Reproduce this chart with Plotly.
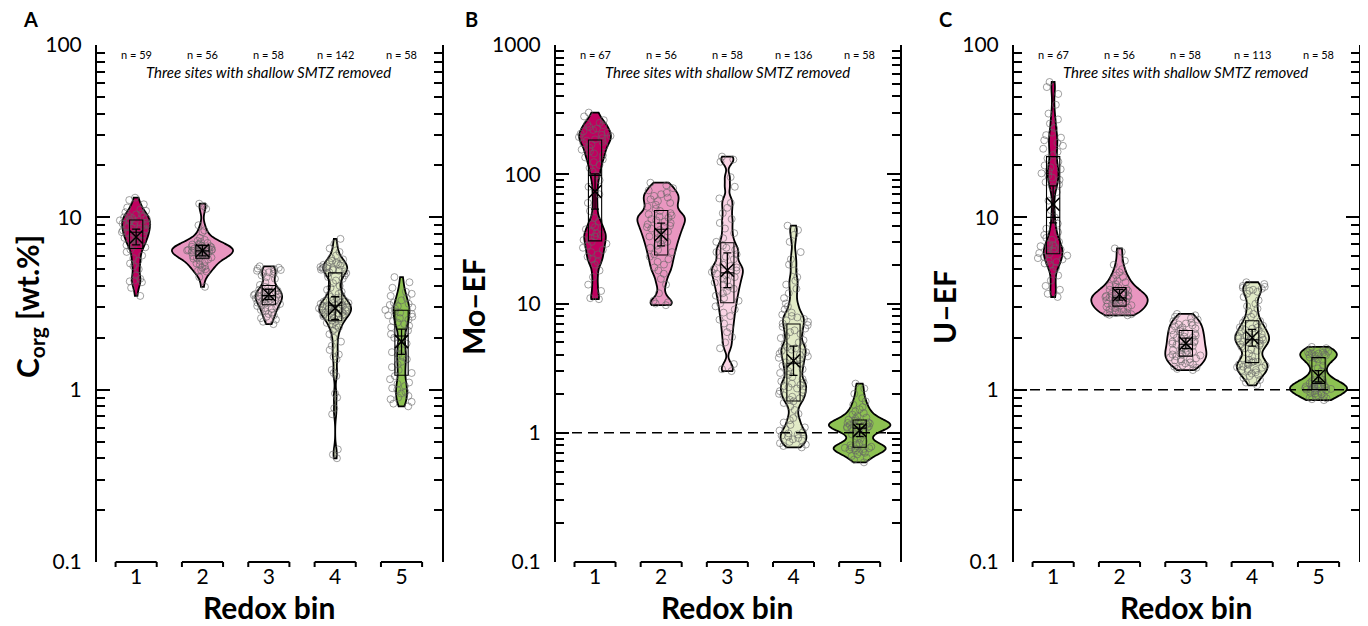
import numpy as np
import plotly.graph_objects as go

# ---------------- data ----------------
redox_bins = [1, 2, 3, 4, 5]
bin_tick_labels = ["1", "2", "3", "4", "5"]

corg_bin1 = [13.0, 12.6, 11.9, 11.4, 11.1, 10.9, 10.7, 10.5, 10.4, 10.2, 10.1, 10.0, 9.9, 9.8, 9.7,
             9.6, 9.5, 9.4, 9.3, 9.2, 9.1, 9.0, 8.9, 8.8, 8.7, 8.6, 8.5, 8.4, 8.3, 8.2, 8.1, 8.0,
             7.9, 7.8, 7.7, 7.6, 7.5, 7.4, 7.3, 7.2, 7.0, 6.9, 6.8, 6.7, 6.5, 6.3, 6.0, 5.8, 5.6,
             5.4, 5.2, 5.0, 4.6, 4.4, 4.3, 4.25, 4.2, 3.9, 3.5]
corg_bin2 = [12.0, 11.6, 11.2, 9.0, 8.4, 8.2, 7.6, 7.4, 7.3, 7.2, 7.1, 7.0, 6.95, 6.9, 6.85, 6.8,
             6.75, 6.7, 6.65, 6.6, 6.58, 6.55, 6.52, 6.5, 6.48, 6.45, 6.42, 6.4, 6.38, 6.35, 6.32,
             6.3, 6.25, 6.2, 6.15, 6.1, 6.05, 6.0, 5.95, 5.9, 5.85, 5.8, 5.75, 5.7, 5.6, 5.5, 5.4,
             5.3, 5.2, 5.1, 5.0, 4.95, 4.9, 4.85, 4.5, 3.95]
corg_bin3 = [5.2, 5.1, 5.05, 5.0, 4.95, 4.9, 4.85, 4.8, 4.75, 4.7, 4.6, 4.5, 4.4, 4.2, 4.05, 3.95,
             3.9, 3.85, 3.8, 3.75, 3.72, 3.7, 3.68, 3.65, 3.62, 3.6, 3.58, 3.55, 3.53, 3.5, 3.48,
             3.45, 3.42, 3.4, 3.38, 3.35, 3.32, 3.3, 3.27, 3.24, 3.2, 3.17, 3.14, 3.1, 3.06, 3.02,
             2.98, 2.94, 2.9, 2.85, 2.8, 2.75, 2.7, 2.65, 2.6, 2.55, 2.48, 2.4]
corg_bin4 = [7.5, 7.0, 6.6, 6.3, 6.0, 5.8, 5.7, 5.6, 5.5, 5.45, 5.4, 5.35, 5.3, 5.25, 5.2, 5.15,
             5.1, 5.08, 5.05, 5.0, 4.97, 4.94, 4.9, 4.85, 4.8, 4.75, 4.7, 4.6, 4.5, 4.4, 4.3, 4.15,
             4.0, 3.9, 3.8, 3.7, 3.6, 3.55, 3.5, 3.45, 3.4, 3.35, 3.3, 3.27, 3.24, 3.21, 3.18, 3.15,
             3.12, 3.1, 3.08, 3.06, 3.04, 3.02, 3.0, 2.98, 2.96, 2.94, 2.92, 2.9, 2.88, 2.86, 2.84,
             2.82, 2.8, 2.78, 2.76, 2.74, 2.72, 2.7, 2.67, 2.64, 2.6, 2.56, 2.52, 2.48, 2.44, 2.4,
             2.35, 2.3, 2.25, 2.2, 2.1, 2.0, 1.9, 1.8, 1.7, 1.6, 1.55, 1.5, 1.3, 1.25, 1.2, 0.95,
             0.9, 0.78, 0.72, 0.45, 0.42, 0.4]
corg_bin5 = [4.5, 4.2, 3.9, 3.7, 3.6, 3.5, 3.4, 3.3, 3.2, 3.15, 3.1, 3.05, 3.0, 2.95, 2.9, 2.85,
             2.8, 2.75, 2.7, 2.65, 2.6, 2.55, 2.5, 2.45, 2.4, 2.35, 2.3, 2.2, 2.1, 2.0, 1.95, 1.85,
             1.75, 1.7, 1.65, 1.6, 1.55, 1.5, 1.45, 1.4, 1.35, 1.3, 1.25, 1.2, 1.15, 1.1, 1.08,
             1.05, 1.02, 1.0, 0.97, 0.95, 0.92, 0.9, 0.88, 0.85, 0.83, 0.8]

mo_bin1 = [300, 280, 262, 250, 240, 232, 226, 220, 215, 210, 206, 202, 198, 194, 190, 186, 182,
           178, 174, 170, 165, 160, 155, 150, 145, 140, 135, 130, 124, 118, 112, 105, 98, 90, 80,
           70, 60, 52, 46, 43, 41, 39, 37.5, 36, 35, 34, 33, 32, 31, 30, 29, 28, 27, 26, 25, 24,
           23, 22, 21, 20, 18, 16, 14, 12.5, 11, 10.8, 245]
mo_bin2 = [86, 82, 78, 75, 72, 70, 68, 66, 64, 62, 60, 58, 56, 54, 52, 50, 49, 48, 47, 46, 45, 44,
           43, 42, 41, 40, 39, 38, 37, 36, 35, 34, 33, 32, 31, 30, 29, 28, 27, 26, 25, 24, 23, 22,
           21, 20, 19, 18, 17, 15.5, 14, 12, 10.5, 10.2, 10.0, 9.7]
mo_bin3 = [137, 130, 125, 95, 80, 65, 60, 55, 50, 45, 42, 38, 35, 32, 30, 28, 27, 26, 25, 24, 23,
           22, 21, 20, 19.5, 19, 18.5, 18, 17.5, 17, 16.5, 16, 15.5, 15, 14.5, 14, 13.5, 13, 12.5,
           12, 11.5, 11, 10.5, 10, 9.5, 9, 8.5, 8, 7.5, 7, 6.5, 6, 5.5, 5, 4.5, 3.4, 3.1, 3.0]
mo_bin4 = [40, 37, 34, 30, 25, 22, 20, 18, 16, 15, 14, 13, 12, 11, 10, 9.5, 9.0, 8.5, 8.2, 8.0,
           7.8, 7.6, 7.4, 7.2, 7.0, 6.8, 6.6, 6.4, 6.2, 6.0, 5.8, 5.6, 5.4, 5.2, 5.0, 4.8, 4.7,
           4.6, 4.5, 4.4, 4.3, 4.2, 4.1, 4.0, 3.9, 3.8, 3.7, 3.6, 3.5, 3.4, 3.3, 3.2, 3.1, 3.0,
           2.9, 2.8, 2.7, 2.6, 2.5, 2.45, 2.4, 2.35, 2.3, 2.25, 2.2, 2.15, 2.1, 2.05, 2.0, 1.95,
           1.9, 1.85, 1.8, 1.75, 1.7, 1.6, 1.5, 1.4, 1.3, 1.25, 1.2, 1.15, 1.1, 1.07, 1.04, 1.01,
           0.99, 0.97, 0.95, 0.93, 0.91, 0.89, 0.87, 0.85, 0.83, 0.81, 0.79, 0.77]
mo_bin5 = [2.4, 2.2, 2.0, 1.85, 1.75, 1.65, 1.58, 1.52, 1.46, 1.42, 1.38, 1.34, 1.31, 1.28, 1.26,
           1.24, 1.22, 1.2, 1.19, 1.18, 1.17, 1.16, 1.15, 1.14, 1.13, 1.12, 1.11, 1.1, 1.09, 1.08,
           1.06, 1.04, 1.02, 1.0, 0.97, 0.93, 0.9, 0.86, 0.83, 0.81, 0.8, 0.79, 0.78, 0.77, 0.765,
           0.76, 0.755, 0.75, 0.74, 0.73, 0.72, 0.71, 0.7, 0.68, 0.66, 0.64, 0.62, 0.59]

u_bin1 = [61, 57, 52, 45, 40, 37, 35, 33, 31, 30, 29, 28, 27, 26, 25, 24, 23, 22, 21, 20, 19.5,
          19, 18.5, 18, 17.5, 17, 16.5, 16, 15.5, 15, 14, 12.5, 11, 10, 9.2, 8.6, 8.2, 7.9, 7.6,
          7.4, 7.2, 7.0, 6.9, 6.8, 6.7, 6.6, 6.5, 6.4, 6.3, 6.2, 6.1, 6.0, 5.9, 5.8, 5.7, 5.6,
          5.5, 5.4, 5.3, 5.1, 4.9, 4.6, 4.3, 4.0, 3.8, 3.45, 3.6]
u_bin2 = [6.6, 6.3, 5.6, 5.3, 5.0, 4.8, 4.6, 4.5, 4.4, 4.3, 4.2, 4.1, 4.0, 3.95, 3.9, 3.85, 3.8,
          3.75, 3.7, 3.65, 3.6, 3.56, 3.52, 3.48, 3.45, 3.42, 3.39, 3.36, 3.33, 3.3, 3.27, 3.24,
          3.21, 3.18, 3.15, 3.12, 3.09, 3.06, 3.03, 3.0, 2.97, 2.94, 2.91, 2.88, 2.85, 2.82, 2.8,
          2.78, 2.76, 2.74, 2.72, 2.7, 3.5, 3.4, 3.6, 3.3]
u_bin3 = [2.75, 2.7, 2.65, 2.6, 2.55, 2.5, 2.45, 2.42, 2.39, 2.36, 2.33, 2.3, 2.27, 2.24, 2.21,
          2.18, 2.15, 2.12, 2.09, 2.06, 2.03, 2.0, 1.97, 1.94, 1.91, 1.88, 1.85, 1.82, 1.79, 1.76,
          1.73, 1.7, 1.68, 1.66, 1.64, 1.62, 1.6, 1.58, 1.56, 1.54, 1.52, 1.5, 1.48, 1.46, 1.44,
          1.42, 1.4, 1.38, 1.36, 1.34, 1.32, 1.3, 1.8, 1.9, 2.0, 1.7, 1.6, 1.5]
u_bin4 = [4.2, 4.1, 4.0, 3.95, 3.9, 3.85, 3.8, 3.75, 3.7, 3.6, 3.45, 3.3, 3.15, 3.05, 2.95, 2.85,
          2.75, 2.65, 2.55, 2.5, 2.45, 2.4, 2.35, 2.3, 2.26, 2.22, 2.18, 2.14, 2.1, 2.07, 2.04,
          2.01, 1.98, 1.95, 1.92, 1.89, 1.86, 1.83, 1.8, 1.77, 1.74, 1.71, 1.68, 1.62, 1.56, 1.52,
          1.49, 1.46, 1.44, 1.42, 1.4, 1.38, 1.36, 1.34, 1.32, 1.3, 1.28, 1.26, 1.24, 1.22, 1.2,
          1.17, 1.14, 1.1, 1.06, 2.0, 1.9, 2.2, 2.3, 1.85, 1.95, 2.05, 1.4, 1.35, 1.3, 1.45]
u_bin5 = [1.77, 1.74, 1.71, 1.68, 1.66, 1.64, 1.62, 1.6, 1.58, 1.56, 1.54, 1.52, 1.5, 1.47, 1.43,
          1.38, 1.33, 1.28, 1.24, 1.2, 1.17, 1.14, 1.12, 1.1, 1.09, 1.08, 1.07, 1.06, 1.05, 1.045,
          1.04, 1.035, 1.03, 1.025, 1.02, 1.015, 1.01, 1.0, 0.99, 0.98, 0.97, 0.96, 0.95, 0.94,
          0.93, 0.92, 0.91, 0.9, 0.89, 0.88, 0.87, 1.6, 1.62, 1.58, 1.05, 1.03, 1.0, 1.65]

corg_n = [59, 56, 58, 142, 58]
mo_n = [67, 56, 58, 136, 58]
u_n = [67, 56, 58, 113, 58]

y_tick_values = [0.1, 1, 10, 100, 1000]
y_tick_labels = ["0.1", "1", "10", "100", "1000"]
panel_letters = ["A", "B", "C"]
y_titles = ["C<sub>org</sub> [wt.%]", "Mo\u2013EF", "U\u2013EF"]
x_title = "Redox bin"
subtitle = "Three sites with shallow SMTZ removed"
reference_value = 1

# ---------------- styling ----------------
FONT = "Lato"
PAGE_OFFSET = 8            # default body margin of the html page
W, H = 1368 - 2 * PAGE_OFFSET, 626 - PAGE_OFFSET


def px_x(x):
    return (x - PAGE_OFFSET) / W


def px_y(y):
    return 1 - (y - PAGE_OFFSET) / H


bin_colors = ["#C0005F", "#E996C0", "#F9D3E4", "#E2EBC7", "#8DC152"]
X_RANGE = [0.41, 5.61]
Y_DOMAIN = [px_y(562), px_y(45)]
X_DOMAINS = [[px_x(97), px_x(442)], [px_x(556), px_x(900)], [px_x(1014), px_x(1359)]]
TITLE_X = [px_x(29), px_x(473), px_x(944)]
LETTER_X = [px_x(30), px_x(472), px_x(945)]

panels = [
    dict(data=[corg_bin1, corg_bin2, corg_bin3, corg_bin4, corg_bin5], n=corg_n, ymax=100,
         ref=False, vw=[0.42, 0.92, 0.40, 0.48, 0.24]),
    dict(data=[mo_bin1, mo_bin2, mo_bin3, mo_bin4, mo_bin5], n=mo_n, ymax=1000,
         ref=True, vw=[0.48, 0.72, 0.47, 0.39, 0.93]),
    dict(data=[u_bin1, u_bin2, u_bin3, u_bin4, u_bin5], n=u_n, ymax=100,
         ref=True, vw=[0.28, 0.85, 0.62, 0.51, 0.86]),
]

fig = go.Figure()
annotations = []
shapes = []
layout_axes = {}


def note(**kw):
    d = dict(showarrow=False, xanchor="center", yanchor="middle")
    d.update(kw)
    annotations.append(d)


for p, panel in enumerate(panels):
    sfx = "" if p == 0 else str(p + 1)
    xa, ya = "x" + sfx, "y" + sfx
    for b, (k, vals) in enumerate(zip(redox_bins, panel["data"])):
        lv = np.log10(np.array(vals, dtype=float))
        xs = [k] * len(lv)
        fig.add_trace(go.Violin(
            x=xs, y=lv, xaxis=xa, yaxis=ya, width=panel["vw"][b], scalemode="width",
            spanmode="hard", bandwidth=0.035, points=False, fillcolor=bin_colors[b],
            line=dict(color="black", width=1.8), opacity=1, showlegend=False,
            hoverinfo="skip"))
        fig.add_trace(go.Box(
            x=xs, y=lv, xaxis=xa, yaxis=ya, boxpoints="all", jitter=1, pointpos=0, width=0.5,
            fillcolor="rgba(0,0,0,0)", line=dict(width=0, color="rgba(0,0,0,0)"),
            marker=dict(symbol="circle-open", size=7, color="rgba(100,100,100,0.6)",
                        line=dict(width=1)),
            showlegend=False, hoverinfo="skip"))
        q1, med, q3 = np.percentile(lv, [25, 50, 75])
        fig.add_trace(go.Box(
            x=[k], q1=[q1], median=[med], q3=[q3], lowerfence=[q1], upperfence=[q3],
            xaxis=xa, yaxis=ya, width=0.2, whiskerwidth=0, boxpoints=False,
            fillcolor="rgba(0,0,0,0)", line=dict(color="black", width=1.1),
            showlegend=False, hoverinfo="skip"))
        m = lv.mean()
        err = 2.576 * lv.std(ddof=1) / np.sqrt(len(lv))
        fig.add_trace(go.Scatter(
            x=[k], y=[m], xaxis=xa, yaxis=ya, mode="markers",
            marker=dict(symbol="x-thin", size=13, color="black", line=dict(width=1.6, color="black")),
            error_y=dict(type="data", array=[err], color="black", thickness=1.3, width=4),
            showlegend=False, hoverinfo="skip"))
        note(x=k, y=px_y(54), xref=xa, yref="paper", text=f"n = {panel['n'][b]}",
             font=dict(family=FONT, size=11, color="black"))
        # category bracket under each bin
        yb = Y_DOMAIN[0]
        shapes.append(dict(type="line", xref=xa, yref="paper", x0=k - 0.31, x1=k + 0.31,
                           y0=yb, y1=yb, line=dict(color="black", width=2)))
        for xe in (k - 0.31, k + 0.31):
            shapes.append(dict(type="line", xref=xa, yref="paper", x0=xe, x1=xe,
                               y0=yb, y1=yb - 5 / H, line=dict(color="black", width=2)))

    ytop = int(round(np.log10(panel["ymax"])))
    tv = [np.log10(v) for v in y_tick_values if v <= panel["ymax"]]
    tt = [t for v, t in zip(y_tick_values, y_tick_labels) if v <= panel["ymax"]]
    minor_vals = [np.log10(mm * 10.0 ** d) for d in range(-1, ytop) for mm in range(2, 10)]

    layout_axes["xaxis" + sfx] = dict(
        domain=X_DOMAINS[p], range=X_RANGE, anchor=ya, showline=False, showgrid=False,
        zeroline=False, ticks="", tickmode="array", tickvals=redox_bins, automargin=False,
        ticktext=bin_tick_labels, tickfont=dict(family=FONT, size=21, color="black"))
    layout_axes["yaxis" + sfx] = dict(
        domain=Y_DOMAIN, range=[-1, ytop], anchor=xa, showline=True, linecolor="black",
        linewidth=2, mirror="ticks", ticks="inside", ticklen=13, tickwidth=2, automargin=False,
        tickcolor="black", showgrid=False, zeroline=False, tickmode="array", tickvals=tv,
        ticktext=tt, tickfont=dict(family=FONT, size=21, color="black"),
        ticklabelstandoff=9,
        minor=dict(tickmode="array", tickvals=minor_vals, ticks="inside", ticklen=8,
                   tickwidth=1.5, tickcolor="black", showgrid=False))

    if panel["ref"]:
        shapes.append(dict(type="line", xref=xa + " domain", yref=ya, x0=0, x1=1,
                           y0=np.log10(reference_value), y1=np.log10(reference_value),
                           line=dict(color="black", width=1.5, dash="10px,6px"), layer="above"))

    note(x=3, y=px_y(72), xref=xa, yref="paper", text=f"<i>{subtitle}</i>",
         font=dict(family=FONT, size=15, color="black"))
    note(x=3, y=px_y(607), xref=xa, yref="paper", text=f"<b>{x_title}</b>",
         font=dict(family=FONT, size=30, color="black"))
    note(x=TITLE_X[p], y=px_y(307), xref="paper", yref="paper", text=f"<b>{y_titles[p]}</b>",
         textangle=-90, font=dict(family=FONT, size=30, color="black"))
    note(x=LETTER_X[p], y=px_y(19), xref="paper", yref="paper",
         text=f"<b>{panel_letters[p]}</b>", font=dict(family=FONT, size=20, color="black"))

fig.update_layout(
    width=W, height=H, margin=dict(l=0, r=0, t=0, b=0, pad=0, autoexpand=False),
    template="none", paper_bgcolor="white", plot_bgcolor="white",
    violinmode="overlay", boxmode="overlay", showlegend=False,
    font=dict(family=FONT, color="black"),
    annotations=annotations, shapes=shapes, **layout_axes)

fig.write_html("out.html")
